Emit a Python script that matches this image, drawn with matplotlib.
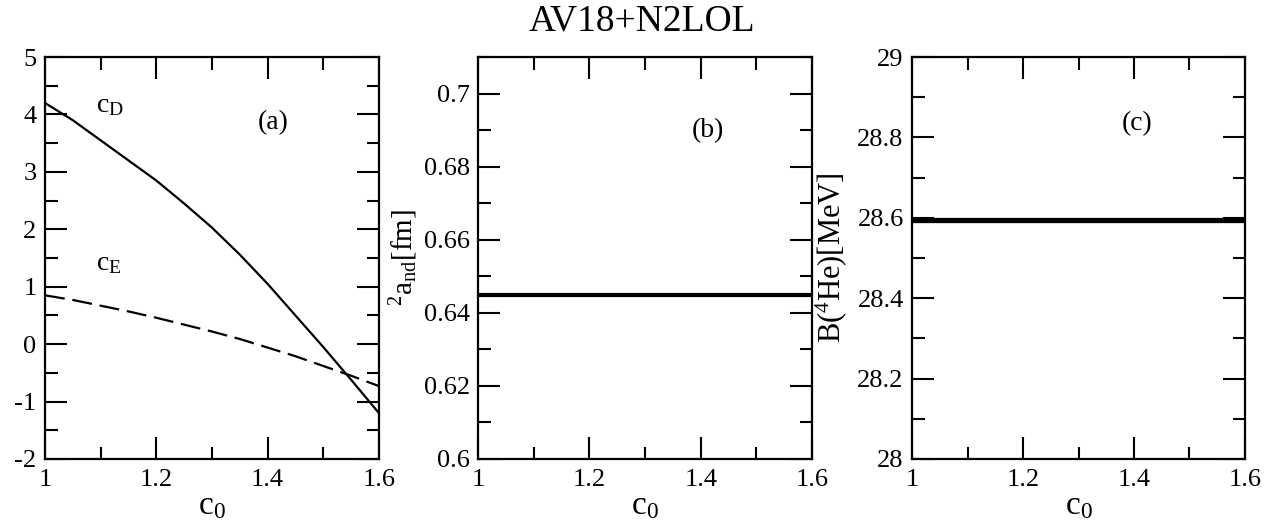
import numpy as np
import matplotlib
matplotlib.use("Agg")
import matplotlib.pyplot as plt
from matplotlib.ticker import MultipleLocator, FuncFormatter

plt.rcParams["font.family"] = ["Liberation Serif", "DejaVu Serif"]
plt.rcParams["mathtext.fontset"] = "custom"
plt.rcParams["mathtext.rm"] = "Liberation Serif"
plt.rcParams["mathtext.it"] = "Liberation Serif:italic"
plt.rcParams["axes.unicode_minus"] = False

# ---------------------------------------------------------------------------
# Data
# ---------------------------------------------------------------------------
c0 = [1.0, 1.05, 1.1, 1.15, 1.2, 1.25, 1.3, 1.35, 1.4, 1.45, 1.5, 1.55, 1.6]
cD = [4.2, 3.9, 3.55, 3.2, 2.85, 2.45, 2.03, 1.56, 1.05, 0.5, -0.05, -0.62, -1.2]
cE = [0.85, 0.77, 0.67, 0.57, 0.46, 0.34, 0.22, 0.09, -0.06, -0.21, -0.38, -0.55, -0.73]
and_value = [0.645] * len(c0)      # 2a_nd [fm]
b4he_value = [28.595] * len(c0)    # B(4He) [MeV]

fig = plt.figure(figsize=(12.66, 5.31), dpi=100)

axes_pos = [
    [0.0355, 0.1356, 0.2638, 0.757],
    [0.3776, 0.1356, 0.2638, 0.757],
    [0.7204, 0.1356, 0.2630, 0.757],
]
axs = [fig.add_axes(p) for p in axes_pos]

fmt = FuncFormatter(lambda v, pos: "%g" % round(v, 6))


def style_axes(ax, ylim, ymaj, ymin):
    ax.set_xlim(1.0, 1.6)
    ax.set_ylim(*ylim)
    ax.xaxis.set_major_locator(MultipleLocator(0.2))
    ax.xaxis.set_minor_locator(MultipleLocator(0.1))
    ax.yaxis.set_major_locator(MultipleLocator(ymaj))
    ax.yaxis.set_minor_locator(MultipleLocator(ymin))
    ax.xaxis.set_major_formatter(fmt)
    ax.yaxis.set_major_formatter(fmt)
    ax.tick_params(which="both", direction="in", top=True, right=True,
                   width=1.5, labelsize=19)
    ax.tick_params(which="major", length=16)
    ax.tick_params(which="minor", length=9)
    ax.tick_params(axis="y", pad=6)
    ax.tick_params(axis="x", pad=7)
    for s in ax.spines.values():
        s.set_linewidth(1.6)
    ax.set_xlabel(r"c$_0$", fontsize=24, labelpad=0)


# (a) cD and cE
ax = axs[0]
style_axes(ax, (-2, 5), 1, 0.5)
ax.plot(c0, cD, color="black", lw=1.6)
ax.plot(c0, cE, color="black", lw=1.6, ls=(0, (9, 3.5)))
ax.text(1.092, 4.16, r"c$_{\rm D}$", fontsize=20, va="center")
ax.text(1.092, 1.40, r"c$_{\rm E}$", fontsize=20, va="center")
ax.text(1.41, 3.85, "(a)", fontsize=20, ha="center", va="center")

# (b) 2a_nd
ax = axs[1]
style_axes(ax, (0.6, 0.71), 0.02, 0.01)
ax.plot(c0, and_value, color="black", lw=3.0)
ax.text(1.413, 0.6900, "(b)", fontsize=20, ha="center", va="center")
ax.set_ylabel(r"$^2$a$_{\rm nd}$[fm]", fontsize=21)
ax.yaxis.set_label_coords(-0.175, 0.5)

# (c) B(4He)
ax = axs[2]
style_axes(ax, (28, 29), 0.2, 0.1)
ax.plot(c0, b4he_value, color="black", lw=3.8)
ax.text(1.405, 28.835, "(c)", fontsize=20, ha="center", va="center")
ax.set_ylabel(r"B($^4$He)[MeV]", fontsize=22)
ax.yaxis.set_label_coords(-0.19, 0.5)

fig.text(0.507, 0.96, "AV18+N2LOL", fontsize=27, ha="center", va="center")

fig.savefig("out.png", dpi=100)
